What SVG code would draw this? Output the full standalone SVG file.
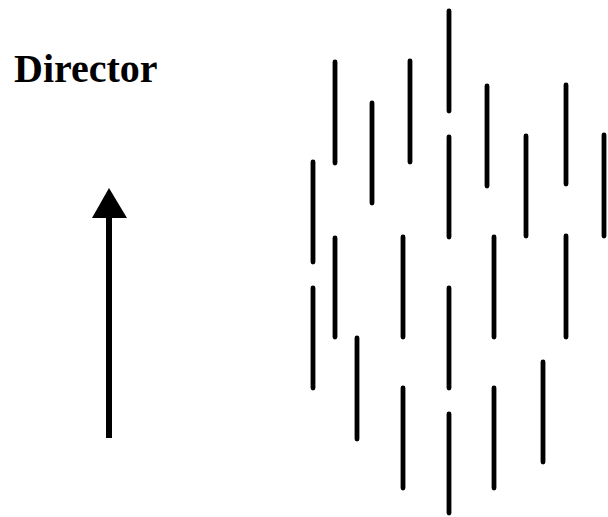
<svg xmlns="http://www.w3.org/2000/svg" width="608" height="517" viewBox="0 0 608 517">
<style>
.bar{stroke:#000;stroke-width:4.8;stroke-linecap:round;fill:none}
.lbl{font-family:"Liberation Serif","Times New Roman",serif;font-weight:bold;font-size:40px;fill:#000}
</style>
<rect width="608" height="517" fill="#fff"/>
<g id="label"><text class="lbl" x="14" y="82">Director</text></g>
<g id="arrow">
<line x1="109" y1="216" x2="109" y2="438" stroke="#000" stroke-width="6"/>
<polygon points="109,188 92,218 127,218" fill="#000"/>
</g>
<g id="molecules">
<line class="bar" x1="335" y1="62" x2="335" y2="163"/>
<line class="bar" x1="372" y1="103" x2="372" y2="203"/>
<line class="bar" x1="410" y1="61" x2="410" y2="162"/>
<line class="bar" x1="449" y1="11" x2="449" y2="111"/>
<line class="bar" x1="449" y1="137" x2="449" y2="237"/>
<line class="bar" x1="487" y1="86" x2="487" y2="186"/>
<line class="bar" x1="526" y1="136" x2="526" y2="236"/>
<line class="bar" x1="566" y1="85" x2="566" y2="184"/>
<line class="bar" x1="604" y1="135" x2="604" y2="236"/>
<line class="bar" x1="313" y1="162" x2="313" y2="262"/>
<line class="bar" x1="335" y1="238" x2="335" y2="337"/>
<line class="bar" x1="403" y1="237" x2="403" y2="337"/>
<line class="bar" x1="494" y1="237" x2="494" y2="337"/>
<line class="bar" x1="566" y1="236" x2="566" y2="337"/>
<line class="bar" x1="313" y1="288" x2="313" y2="388"/>
<line class="bar" x1="449" y1="288" x2="449" y2="388"/>
<line class="bar" x1="357" y1="338" x2="357" y2="439"/>
<line class="bar" x1="543" y1="362" x2="543" y2="462"/>
<line class="bar" x1="403" y1="388" x2="403" y2="488"/>
<line class="bar" x1="494" y1="388" x2="494" y2="488"/>
<line class="bar" x1="449" y1="414" x2="449" y2="513"/>
</g>
</svg>
